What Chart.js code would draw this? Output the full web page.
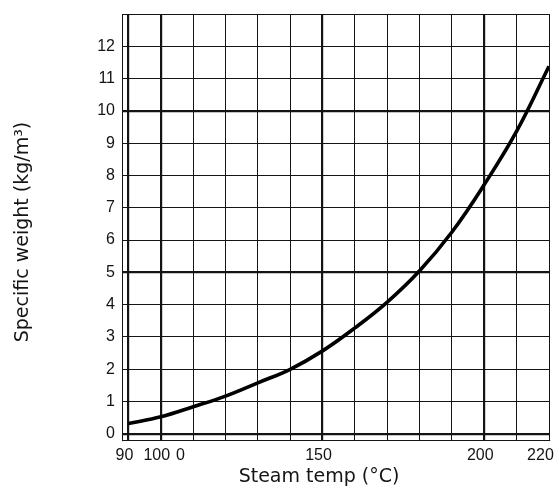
<!DOCTYPE html>
<html>
<head>
<meta charset="utf-8">
<script src="https://cdn.jsdelivr.net/npm/chart.js@4/dist/chart.umd.min.js"></script>
<style>
  html, body { margin: 0; padding: 0; background: #fff; }
  #wrap { width: 556px; height: 489px; position: relative; }
</style>
</head>
<body>
<div id="wrap"><canvas id="c"></canvas></div>
<script>
// Saturated steam: specific weight against temperature
const temps = [90, 100, 110, 120, 130, 140, 150, 160, 170, 180, 190, 200, 210, 220];
const weights = [0.32, 0.53, 0.84, 1.17, 1.58, 2.0, 2.57, 3.28, 4.08, 5.05, 6.25, 7.72, 9.37, 11.38];

// Grid divisions
const xGrid = [90, 100, 110, 120, 130, 140, 150, 160, 170, 180, 190, 200, 210, 220];
const xMajor = [90, 100, 150, 200];
const yGrid = [0, 1, 2, 3, 4, 5, 6, 7, 8, 9, 10, 11, 12, 13];
const yMajor = [0, 5, 10];

// Labels printed under the temperature axis (last one pulled in from the edge)
const xTickValues = [90, 100, 107.3, 150, 200, 218.6];
const xTickLabels = ['90', '100', '0', '150', '200', '220'];
const yTickLabels = ['0', '1', '2', '3', '4', '5', '6', '7', '8', '9', '10', '11', '12', ''];

const xTitle = 'Steam temp (°C)';
const yTitle = 'Specific weight (kg/m³)';

const INK = '#141414';
const tickFont = { family: "'Liberation Sans Narrow', 'Liberation Sans', Arial, sans-serif", size: 16 };

const titles = {
  id: 'axisTitles',
  afterDraw(chart) {
    const ctx = chart.ctx;
    ctx.save();
    ctx.fillStyle = INK;
    ctx.font = "19px 'DejaVu Sans', sans-serif";
    ctx.textAlign = 'center';
    ctx.textBaseline = 'middle';
    ctx.fillText(xTitle, 319, 477);
    ctx.translate(23, 232);
    ctx.rotate(-Math.PI / 2);
    ctx.fillText(yTitle, 0, 0);
    ctx.restore();
  }
};

function noSidePadding(s) {
  s.paddingLeft = 0;
  s.paddingRight = 0;
}

new Chart(document.getElementById('c'), {
  type: 'line',
  data: {
    labels: temps,
    datasets: [{
      data: temps.map((t, i) => ({ x: t, y: weights[i] })),
      borderColor: '#000',
      borderWidth: 3.6,
      pointRadius: 0,
      tension: 0.4,
      fill: false
    }]
  },
  options: {
    responsive: true,
    maintainAspectRatio: false,
    animation: false,
    layout: { padding: { top: 14, right: 7, left: 0, bottom: 0 } },
    plugins: { legend: { display: false }, tooltip: { enabled: false } },
    scales: {
      x: {
        type: 'linear',
        position: 'bottom',
        min: 88,
        max: 220,
        afterBuildTicks(s) { s.ticks = xGrid.map(v => ({ value: v })); },
        afterFit(s) { s.height = 0; noSidePadding(s); },
        ticks: { display: false },
        grid: {
          color: INK,
          drawTicks: false,
          lineWidth: c => (c.tick && xMajor.includes(c.tick.value)) ? 2.2 : 1
        },
        border: { display: true, color: INK, width: 1 }
      },
      xl: {
        type: 'linear',
        position: 'bottom',
        min: 88,
        max: 220,
        afterBuildTicks(s) { s.ticks = xTickValues.map(v => ({ value: v })); },
        afterFit(s) { s.height = 49; noSidePadding(s); },
        ticks: {
          color: INK,
          font: tickFont,
          padding: 6,
          labelOffset: -4,
          maxRotation: 0,
          autoSkip: false,
          callback: (v, i) => xTickLabels[i]
        },
        grid: { display: false, drawTicks: false },
        border: { display: false }
      },
      y: {
        type: 'linear',
        min: -0.19,
        max: 13,
        afterBuildTicks(s) { s.ticks = yGrid.map(v => ({ value: v })); },
        afterFit(s) { s.width = 122; s.paddingTop = 0; s.paddingBottom = 0; },
        ticks: {
          color: INK,
          font: tickFont,
          padding: 7,
          autoSkip: false,
          callback: (v, i) => yTickLabels[i]
        },
        grid: {
          color: INK,
          drawTicks: false,
          lineWidth: c => (c.tick && yMajor.includes(c.tick.value)) ? 2.2 : 1
        },
        border: { display: true, color: INK, width: 1 }
      }
    }
  },
  plugins: [titles]
});
</script>
</body>
</html>
